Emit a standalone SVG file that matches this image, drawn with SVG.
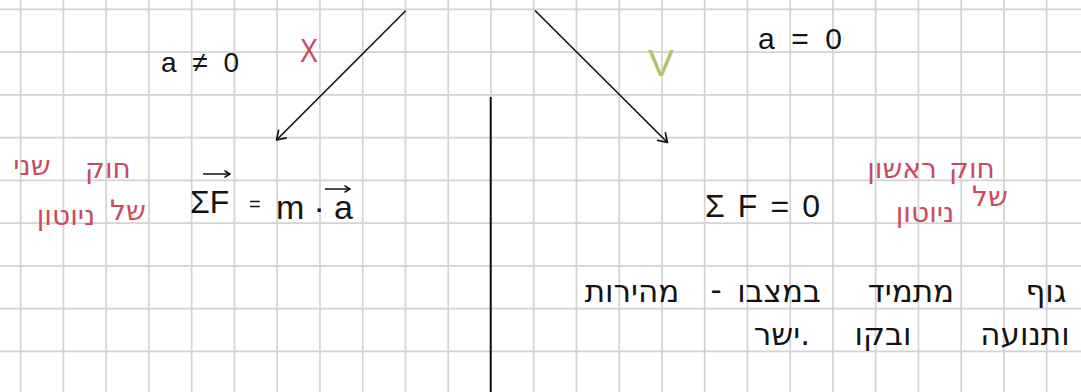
<svg xmlns="http://www.w3.org/2000/svg" width="1081" height="392" viewBox="0 0 1081 392">
<style>
.grid{stroke:#d3d3d3;stroke-width:1.7;fill:none}
.ink{fill:#141414;font-family:"Liberation Sans","DejaVu Sans",sans-serif}
.heb{font-family:"DejaVu Sans","Liberation Sans",sans-serif;text-anchor:middle}
.red{fill:#cc4a60}
.green{fill:#b8bf6a}
.conn{stroke:#111;stroke-width:1.6;fill:none}
</style>
<defs>
<marker id="open" viewBox="0 0 12 12" refX="10" refY="6" markerWidth="12" markerHeight="12" markerUnits="userSpaceOnUse" orient="auto" overflow="visible">
<path d="M1.6,0.6 L10,6 L1.6,11.4" fill="none" stroke="#111" stroke-width="1.6" stroke-linecap="round" stroke-linejoin="round"/>
</marker>
<marker id="vec" viewBox="0 0 8 8" refX="7" refY="4" markerWidth="8" markerHeight="8" markerUnits="userSpaceOnUse" orient="auto" overflow="visible">
<path d="M2,1 L7,4 L2,7" fill="none" stroke="#111" stroke-width="1.5" stroke-linecap="round"/>
</marker>
</defs>
<rect width="1081" height="392" fill="#fff"/>
<g id="grid" class="grid">
<path d="M20.7,0V392M63.45,0V392M106.2,0V392M148.95,0V392M191.7,0V392M234.45,0V392M277.2,0V392M319.95,0V392M362.7,0V392M405.45,0V392M448.2,0V392M490.95,0V392M533.7,0V392M576.45,0V392M619.2,0V392M661.95,0V392M704.7,0V392M747.45,0V392M790.2,0V392M832.95,0V392M875.7,0V392M918.45,0V392M961.2,0V392M1003.95,0V392M1046.7,0V392"/>
<path d="M0,9.3H1081M0,52.05H1081M0,94.8H1081M0,137.55H1081M0,180.3H1081M0,223.05H1081M0,265.8H1081M0,308.55H1081M0,351.3H1081"/>
</g>
<g id="divider"><line x1="490.7" y1="97" x2="490.7" y2="392" stroke="#111" stroke-width="2"/></g>
<g id="connectors">
<line class="conn" x1="405.7" y1="10.7" x2="276.5" y2="140" marker-end="url(#open)"/>
<line class="conn" x1="535" y1="10.5" x2="667.5" y2="142.5" marker-end="url(#open)"/>
</g>
<g id="cond-nonzero"><text class="ink" x="161" y="72" font-size="28" textLength="78" lengthAdjust="spacing">a≠0</text></g>
<g id="mark-x"><text class="red" x="300" y="62" font-size="34" font-family="Liberation Sans, sans-serif" textLength="18" lengthAdjust="spacingAndGlyphs">X</text></g>
<g id="mark-v"><text class="green" x="648" y="76" font-size="36" font-family="Liberation Sans, sans-serif" textLength="26" lengthAdjust="spacingAndGlyphs">V</text></g>
<g id="cond-zero"><text class="ink" x="758" y="49" font-size="30" textLength="84" lengthAdjust="spacing">a=0</text></g>
<g id="second-law-eq">
<text class="ink" x="190" y="213" font-size="32">ΣF</text>
<text class="ink" x="249" y="211" font-size="20">=</text>
<text class="ink" x="276" y="219" font-size="34" textLength="77" lengthAdjust="spacing">m·a</text>
<line x1="203" y1="174" x2="230" y2="174" stroke="#111" stroke-width="1.5" marker-end="url(#vec)"/>
<line x1="325" y1="189" x2="350" y2="189" stroke="#111" stroke-width="1.5" marker-end="url(#vec)"/>
</g>
<g id="first-law-eq"><text class="ink" x="705" y="217" font-size="32" textLength="115" lengthAdjust="spacing">ΣF=0</text></g>
<g id="second-law-label" class="red heb" font-size="28">
<text><tspan x="108" y="178">חוק</tspan><tspan x="32" y="175">שני</tspan></text>
<text><tspan x="128" y="220">של</tspan><tspan x="66" y="225">ניוטון</tspan></text>
</g>
<g id="first-law-label" class="red heb" font-size="28">
<text><tspan x="972" y="178">חוק</tspan><tspan x="902" y="178">ראשון</tspan></text>
<text><tspan x="990" y="206">של</tspan><tspan x="925" y="222">ניוטון</tspan></text>
</g>
<g id="first-law-text" class="heb" fill="#141414" font-size="31">
<text><tspan x="1046" y="302">גוף</tspan><tspan x="911" y="302">מתמיד</tspan><tspan x="779" y="302">במצבו</tspan><tspan x="716" y="300">-</tspan><tspan x="632" y="302">מהירות</tspan></text>
<text><tspan x="1025" y="345">ותנועה</tspan><tspan x="883" y="345">ובקו</tspan><tspan x="782" y="345">ישר.</tspan></text>
</g>
</svg>
